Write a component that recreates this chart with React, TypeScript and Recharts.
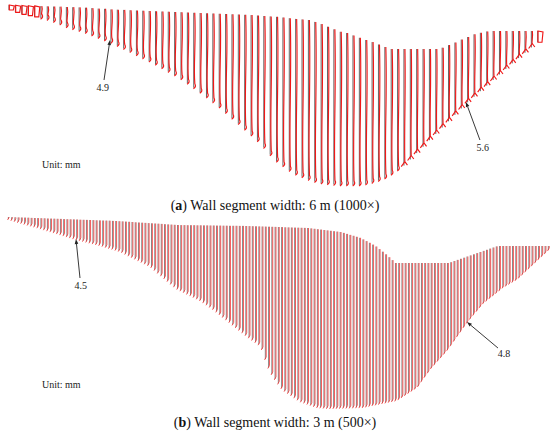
import React from 'react';
import { ComposedChart, Bar, XAxis, YAxis, ReferenceLine } from 'recharts';

// Wall segment widths (m) of the two cases
const SEGMENT_A = 6;
const SEGMENT_B = 3;

// (a) 6 m segments: top and toe of each wall in the drawing (depth units, downwards)
const wallTopA = [5, 5.2, 5.5, 5.7, 5.9, 6.1, 6.3, 6.5, 6.7, 7.0, 7.2, 7.4, 7.7, 8.1, 8.6, 8.8, 9.4, 9.7, 9.9, 10.2,
  10.5, 10.7, 11.0, 11.2, 11.5, 11.7, 12.0, 12.2, 12.5, 12.8, 13.0, 13.3, 13.5, 13.8, 14.0, 14.3, 14.5, 14.8, 15.1, 15.5,
  16.0, 16.4, 16.8, 17.5, 18.2, 18.9, 19.4, 20.0, 21.9, 24.1, 26.7, 29.3, 31.8, 33.0, 35.4, 37.8, 40.0, 42.1, 44.5, 47.0,
  49, 49, 49, 49, 49, 49, 49, 49, 47.7, 45.1, 42.5, 39.6, 37.0, 34.3, 32.8, 31.4, 31, 31, 31, 31, 31, 31, 31, 31];
const wallBottomA = [10, 12.3, 14.3, 15.6, 16.9, 18.2, 19.4, 21.5, 24.1, 26.7, 28.7, 30.6, 32.5, 35.0, 37.5, 40.0, 42.4, 45.5, 48.6, 51.6,
  54.7, 57.9, 61.1, 64.3, 67.8, 71.4, 75.0, 78.8, 83.2, 87.7, 92.3, 97.1, 101.9, 107.1, 112.5, 118.2, 123.6, 129.3, 135.1, 140.8,
  147.4, 154.7, 161.2, 165.8, 170.4, 174.2, 176.7, 179.4, 181.5, 183.1, 183.8, 184.4, 185, 185, 185, 185, 184.1, 182.4, 180.6, 178,
  174.2, 170.0, 165.6, 159.5, 153.1, 146.8, 140.2, 134.0, 127.6, 121.3, 114.9, 108.5, 102.3, 96.8, 91.2, 85.6, 80.0, 74.5, 69.0, 63.4,
  58.1, 52.8, 47.5, 42.2];

// (b) 3 m segments
const wallTopB = [7.0, 7.2, 7.3, 7.4, 7.5, 7.6, 7.7, 7.9, 8.0, 8.1,
  8.2, 8.3, 8.5, 8.6, 8.7, 8.8, 8.9, 9.1, 9.2, 9.3,
  9.4, 9.5, 9.7, 9.8, 9.9, 10.0, 10.1, 10.3, 10.4, 10.5,
  10.6, 10.7, 10.9, 11.0, 11.2, 11.4, 11.6, 11.8, 12.0, 12.3,
  12.5, 12.7, 12.9, 13.1, 13.3, 13.5, 13.7, 13.9, 14.2, 14.4,
  14.6, 14.8, 15.0, 15.1, 15.1, 15.2, 15.2, 15.2, 15.3, 15.3,
  15.4, 15.4, 15.5, 15.5, 15.6, 15.6, 15.7, 15.7, 15.8, 15.8,
  15.8, 15.9, 15.9, 16.0, 16.1, 16.2, 16.3, 16.4, 16.5, 16.6,
  16.7, 16.8, 16.9, 17.0, 17.1, 17.3, 17.4, 17.5, 17.6, 17.7,
  17.8, 17.9, 18.0, 18.4, 18.8, 19.2, 19.6, 20.0, 20.4, 20.8,
  21.2, 21.6, 22.0, 22.9, 23.9, 24.9, 25.8, 26.8, 27.8, 29.4,
  31.1, 32.8, 34.6, 36.5, 39.1, 41.7, 44.3, 47.2, 50.1, 53,
  53, 53, 53, 53, 53, 53, 53, 53, 53, 53,
  53, 53, 53, 53, 53, 53, 52.2, 51.0, 49.9, 48.8,
  47.7, 46.5, 45.4, 44.3, 43.1, 42.0, 40.9, 39.8, 38.6, 37.5,
  36.4, 36, 36, 36, 36, 36, 36, 36, 36, 36,
  36, 36, 36, 36, 36, 36, 36];
const wallBottomB = [9.0, 9.9, 10.8, 11.8, 12.7, 13.6, 14.5, 15.4, 16.3, 17.2,
  18.2, 19.2, 20.2, 21.1, 22.1, 23.1, 24.1, 25.1, 26.1, 27.1,
  28.1, 29.1, 29.9, 30.7, 31.5, 32.3, 33.1, 34.0, 34.8, 35.7,
  36.7, 37.7, 38.6, 39.6, 40.6, 41.9, 43.6, 45.2, 46.8, 48.4,
  50.1, 51.7, 53.3, 54.9, 57.0, 59.7, 62.5, 65.2, 68.0, 70.7,
  73.5, 76.2, 78.6, 80.2, 81.8, 83.5, 85.1, 86.7, 88.3, 90.0,
  92.1, 94.3, 96.5, 98.8, 101.4, 104.0, 106.6, 109.2, 111.8, 114.4,
  117.0, 119.6, 122.2, 124.8, 127.2, 129.6, 131.9, 134.2, 139.0, 149.0,
  157.5, 164.0, 168.9, 173.4, 178.0, 180.7, 182.8, 185.0, 187.2, 189.3,
  191.3, 192.4, 193.6, 194.7, 195.9, 197.0, 197.3, 197.5, 197.8, 198.0,
  197.9, 197.8, 197.7, 197.6, 197.5, 197.4, 197.3, 197.2, 197.1, 197.0,
  196.4, 195.7, 195.0, 194.4, 193.7, 193.0, 192.4, 191.7, 191.0, 190.4,
  189.1, 187.0, 184.9, 182.8, 180.7, 178.6, 176.0, 171.3, 166.8, 162.3,
  158.0, 154.4, 150.7, 147.1, 143.5, 139.8, 135.3, 130.7, 126.1, 121.6,
  117.0, 112.5, 108.5, 104.6, 100.8, 96.9, 93.1, 90.5, 87.9, 85.3,
  82.7, 80.2, 77.4, 75.5, 73.6, 71.7, 69.9, 67.4, 64.4, 61.3,
  58.3, 55.2, 52.2, 49.1, 46.1, 43.1, 40.0];

// Max. displacement annotations: label, arrow tail [chainage m, depth], arrow tip [chainage m, depth]
const annotationLabelsA = ['4.9', '5.6'];
const annotationTailsA = [[89.5, 80], [443.6, 140]];
const annotationTipsA = [[95.1, 40], [430.4, 102]];
const annotationLabelsB = ['4.5', '4.8'];
const annotationTailsB = [[66.4, 68], [451.9, 138]];
const annotationTipsB = [[62.7, 29], [423.3, 112]];

const captionA = 'Wall segment width: 6 m (1000×)';
const captionB = 'Wall segment width: 3 m (500×)';
const unitText = 'Unit: mm';

const dataA = wallTopA.map((t, i) => ({ x: i * SEGMENT_A, span: [t, wallBottomA[i]] }));
const dataB = wallTopB.map((t, i) => ({ x: i * SEGMENT_B, span: [t, wallBottomB[i]] }));

const SERIF = '"Liberation Serif", "Times New Roman", serif';

function norm(props: any) {
  const { x, y, width, height } = props;
  if (![x, y, width, height].every((v) => Number.isFinite(v))) return null;
  const cx = x + width / 2;
  const y0 = Math.min(y, y + height);
  const y1 = Math.max(y, y + height);
  return { cx, y0, y1, h: y1 - y0 };
}

function WallA(props: any) {
  const n = norm(props);
  if (!n) return null;
  const { cx, y0, y1, h } = n;
  const idx = props.index ?? 0;
  let red: string;
  if (h < 12) {
    red = `M${cx},${y0} L${cx + 5},${y0 + 1} L${cx + 4},${y1} L${cx},${y1} Z`;
  } else if (idx >= 62) {
    red = `M${cx + 0.7},${y0} C${cx + 1.6},${y0 + h * 0.4} ${cx - 0.2},${y0 + h * 0.7} ${cx + 0.6},${y1 - 4} L${cx - 3},${y1 + 1} M${cx + 0.6},${y1 - 4} L${cx + 3.2},${y1 - 0.5}`;
  } else {
    red = `M${cx + 0.7},${y0} C${cx + 2.2},${y0 + h * 0.4} ${cx - 0.8},${y0 + h * 0.7} ${cx + 0.8},${y1 - 4} Q${cx + 2.6},${y1 - 1} ${cx - 0.6},${y1 + 1}`;
  }
  return (
    <g>
      <line x1={cx - 0.3} y1={y0} x2={cx - 0.3} y2={y1} stroke="#555" strokeWidth={0.9} />
      <path d={red} stroke="#f01818" strokeWidth={1.15} fill="none" />
    </g>
  );
}

function WallB(props: any) {
  const n = norm(props);
  if (!n) return null;
  const { cx, y0, y1 } = n;
  const red = `M${cx + 0.9},${y0} L${cx + 0.9},${y1 - 2} L${cx - 0.8},${y1 + 1}`;
  return (
    <g>
      <line x1={cx} y1={y0} x2={cx} y2={y1} stroke="#6a6a6a" strokeWidth={0.8} />
      <path d={red} stroke="#f52a2a" strokeWidth={0.9} strokeOpacity={0.85} fill="none" />
    </g>
  );
}

function makeArrow(label: string) {
  return (props: any) => {
    const { x1, y1, x2, y2 } = props;
    if (![x1, y1, x2, y2].every((v) => Number.isFinite(v))) return null;
    const dx = x2 - x1;
    const dy = y2 - y1;
    const len = Math.hypot(dx, dy) || 1;
    const ux = dx / len;
    const uy = dy / len;
    const hl = 5;
    const hw = 1.8;
    const bx = x2 - ux * hl;
    const by = y2 - uy * hl;
    const pts = `${x2},${y2} ${bx - uy * hw},${by + ux * hw} ${bx + uy * hw},${by - ux * hw}`;
    const lx = x1 - ux * 8;
    const ly = y1 - uy * 8;
    return (
      <g>
        <line x1={x1} y1={y1} x2={bx} y2={by} stroke="#222" strokeWidth={0.9} />
        <polygon points={pts} fill="#222" />
        <text x={lx} y={ly + 3.5} textAnchor="middle" fontSize={10} fontFamily={SERIF} fill="#222">
          {label}
        </text>
      </g>
    );
  };
}

function Panel(props: {
  data: any[];
  xDomain: [number, number];
  height: number;
  shape: any;
  barSize: number;
  labels: string[];
  tails: number[][];
  tips: number[][];
}) {
  const { data, xDomain, height, shape, barSize, labels, tails, tips } = props;
  return (
    <ComposedChart width={550} height={height} data={data} margin={{ top: 0, right: 0, bottom: 0, left: 0 }}>
      <XAxis type="number" dataKey="x" domain={xDomain} hide allowDataOverflow />
      <YAxis type="number" domain={[0, height]} reversed hide allowDataOverflow />
      <Bar dataKey="span" barSize={barSize} shape={shape} isAnimationActive={false} />
      {labels.map((lab, i) => (
        <ReferenceLine
          key={lab}
          ifOverflow="visible"
          segment={[
            { x: tails[i][0], y: tails[i][1] },
            { x: tips[i][0], y: tips[i][1] },
          ]}
          shape={makeArrow(lab)}
        />
      ))}
    </ComposedChart>
  );
}

export default function App() {
  return (
    <div style={{ position: 'absolute', left: 0, top: 0, width: 550, height: 436, background: '#fff', overflow: 'hidden' }}>
      <div style={{ position: 'absolute', left: 0, top: 0 }}>
        <Panel
          data={dataA}
          xDomain={[-8.48, 509.6]}
          height={195}
          shape={WallA}
          barSize={3}
          labels={annotationLabelsA}
          tails={annotationTailsA}
          tips={annotationTipsA}
        />
      </div>
      <div style={{ position: 'absolute', left: 0, top: 210 }}>
        <Panel
          data={dataB}
          xDomain={[-7.38, 499.9]}
          height={200}
          shape={WallB}
          barSize={2}
          labels={annotationLabelsB}
          tails={annotationTailsB}
          tips={annotationTipsB}
        />
      </div>
      <div style={{ position: 'absolute', left: 42, top: 159, fontFamily: SERIF, fontSize: 10, color: '#222', lineHeight: '12px' }}>
        {unitText}
      </div>
      <div style={{ position: 'absolute', left: 42, top: 379, fontFamily: SERIF, fontSize: 10, color: '#222', lineHeight: '12px' }}>
        {unitText}
      </div>
      <div style={{ position: 'absolute', left: 0, top: 197, width: 550, textAlign: 'center', fontFamily: SERIF, fontSize: 14, color: '#111', lineHeight: '18px' }}>
        (<b>a</b>) {captionA}
      </div>
      <div style={{ position: 'absolute', left: 0, top: 414, width: 550, textAlign: 'center', fontFamily: SERIF, fontSize: 14, color: '#111', lineHeight: '18px' }}>
        (<b>b</b>) {captionB}
      </div>
    </div>
  );
}
